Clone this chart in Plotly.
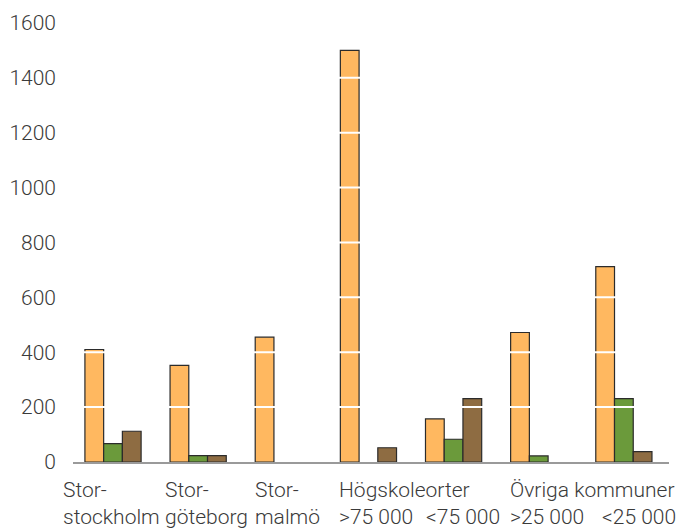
import plotly.graph_objects as go

# Categories and two-line axis labels (group name on top, subgroup below)
categories = [
    "Stor-stockholm", "Stor-göteborg", "Stor-malmö",
    "Högskoleorter >75 000", "Högskoleorter <75 000",
    "Övriga kommuner >25 000", "Övriga kommuner <25 000",
]
label_top = ["Stor-", "Stor-", "Stor-", "Högskoleorter", "", "Övriga kommuner", ""]
label_bottom = ["stockholm", "göteborg", "malmö", ">75 000", "&lt;75 000", ">25 000", "&lt;25 000"]

# Series values (None = no bar)
series_orange = [410, 352, 455, 1500, 157, 472, 712]
series_green = [67, 23, None, None, 83, 22, 231]
series_brown = [112, 23, None, 52, 231, None, 38]

y_ticks = [0, 200, 400, 600, 800, 1000, 1200, 1400, 1600]

# Horizontal nudge of each label block relative to its category centre (px)
label_xshift = [-52, -35, -30, -31, -30, -31, -24]

TEXT = "#3a3a3a"
FONT = "Roboto"
FSIZE = 21
OUTLINE = dict(color="#2b2b2b", width=1.2)

fig = go.Figure()
for vals, color in [(series_orange, "#FFB860"), (series_green, "#6B9A3B"), (series_brown, "#8E6C42")]:
    fig.add_trace(go.Bar(x=categories, y=vals, marker=dict(color=color, line=OUTLINE),
                         showlegend=False))

# White gridlines drawn over the bars
for v in y_ticks[1:]:
    fig.add_shape(type="line", xref="paper", x0=0, x1=1, y0=v, y1=v,
                  line=dict(color="white", width=2), layer="above")

# Axis labels as left-aligned two-line blocks
for cat, top, bottom, dx in zip(categories, label_top, label_bottom, label_xshift):
    for text, dy in [(top, -14), (bottom, -41)]:
        if not text:
            continue
        fig.add_annotation(x=cat, xref="x", y=0, yref="paper", text=text,
                           xanchor="left", yanchor="top", xshift=dx, yshift=dy,
                           showarrow=False, align="left",
                           font=dict(family=FONT, size=FSIZE, color=TEXT, weight=300))

fig.update_layout(
    width=682, height=531,
    margin=dict(l=73, r=13, t=23, b=69, autoexpand=False),
    paper_bgcolor="white", plot_bgcolor="white",
    barmode="group", bargap=0.34, bargroupgap=0,
    font=dict(family=FONT, size=FSIZE, color=TEXT, weight=300),
)
fig.update_xaxes(range=[-0.47, len(categories) - 0.47], automargin=False,
                 showticklabels=False, ticks="", showgrid=False, zeroline=False,
                 showline=True, linecolor="#9a9a9a", linewidth=2)
fig.update_yaxes(range=[0, 1600], tickvals=y_ticks, automargin=False,
                 showgrid=False, zeroline=False,
                 showline=False, ticks="", ticklabelstandoff=16,
                 tickfont=dict(family=FONT, size=FSIZE, color=TEXT, weight=300))

fig.write_html("out.html")
